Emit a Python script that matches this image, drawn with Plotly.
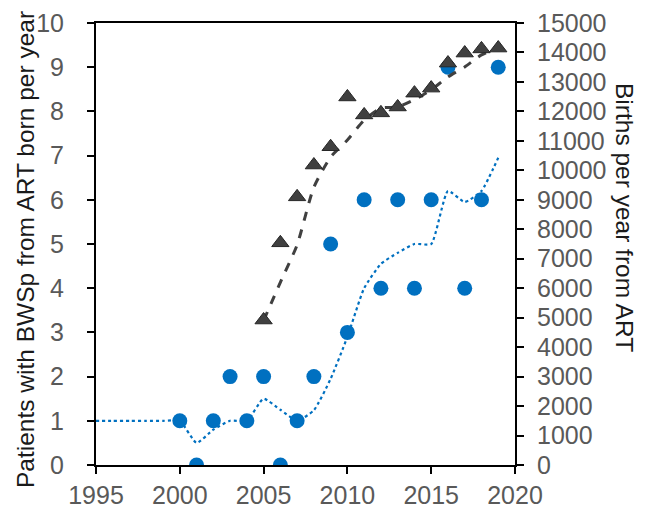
import plotly.graph_objects as go

years_pat = list(range(2000, 2020))
patients = [1, 0, 1, 2, 1, 2, 0, 1, 2, 5, 3, 6, 4, 6, 4, 6, 9, 4, 6, 9]

years_ma = list(range(1995, 2020))
patients_ma = [1, 1, 1, 1, 1, 1, 0.5, 0.8, 1.0, 1.0, 1.5, 1.25, 1.0, 1.24, 1.95, 2.9,
               4.0, 4.55, 4.8, 5.0, 5.0, 6.2, 5.95, 6.2, 6.95]

years_births = list(range(2005, 2020))
births = [4920, 7540, 9100, 10180, 10800, 12490, 11880, 11950, 12150, 12620,
          12790, 13640, 13980, 14120, 14150]
births_trend = [4900, 6200, 7470, 9430, 10450, 11030, 11700, 12110, 12150, 12400,
                12730, 13170, 13510, 13920, 14150]

x_ticks = [1995, 2000, 2005, 2010, 2015, 2020]
left_ticks = list(range(0, 11))
right_ticks = list(range(0, 15001, 1000))

BLUE = "#0070C0"
GRAY = "#404040"
TICKC = "#595959"
FONT = "Liberation Sans"

fig = go.Figure()
fig.add_trace(go.Scatter(x=years_ma, y=patients_ma, mode="lines",
                         line=dict(color=BLUE, width=2.2, dash="dot", shape="spline", smoothing=0.5),
                         yaxis="y", hoverinfo="skip", showlegend=False))
fig.add_trace(go.Scatter(x=years_pat, y=patients, mode="markers",
                         marker=dict(color=BLUE, size=15, symbol="circle"),
                         yaxis="y", showlegend=False))
fig.add_trace(go.Scatter(x=years_births, y=births_trend, mode="lines",
                         line=dict(color=GRAY, width=3, dash="dash", shape="spline", smoothing=0.6),
                         yaxis="y2", hoverinfo="skip", showlegend=False))
fig.add_trace(go.Scatter(x=years_births, y=births, mode="markers",
                         marker=dict(color=GRAY, size=15, symbol="triangle-up",
                                     line=dict(color="#262626", width=1)),
                         yaxis="y2", showlegend=False))

axis_common = dict(showgrid=False, zeroline=False, showline=True, linecolor="black",
                   linewidth=2, ticks="outside", ticklen=7, tickwidth=2, tickcolor="black",
                   automargin=False,
                   tickfont=dict(family=FONT, size=25, color=TICKC))

# page body has an 8px default margin, so the figure is sized to fit the window
fig.update_layout(
    width=641, height=502,
    margin=dict(l=88, r=134, t=15, b=45),
    plot_bgcolor="white", paper_bgcolor="white",
    xaxis=dict(range=[1995, 2020], tickvals=x_ticks, mirror=True, **axis_common),
    yaxis=dict(range=[0, 10], tickvals=left_ticks, ticklabelstandoff=18, **axis_common),
    yaxis2=dict(range=[0, 15000], tickvals=right_ticks, tickformat="d", overlaying="y",
                side="right", ticklabelstandoff=8, **axis_common),
    annotations=[
        dict(text="Patients with BWSp from ART born per year", xref="paper", yref="paper",
             x=(26-96)/419, y=(465-250)/442, xanchor="center", yanchor="middle", textangle=-90,
             showarrow=False, font=dict(family=FONT, size=24.5, color="#1a1a1a")),
        dict(text="Births per year from ART", xref="paper", yref="paper",
             x=(625-96)/419, y=(465-217)/442, xanchor="center", yanchor="middle", textangle=90,
             showarrow=False, font=dict(family=FONT, size=24.5, color="#1a1a1a")),
    ],
)

fig.write_html("out.html")
